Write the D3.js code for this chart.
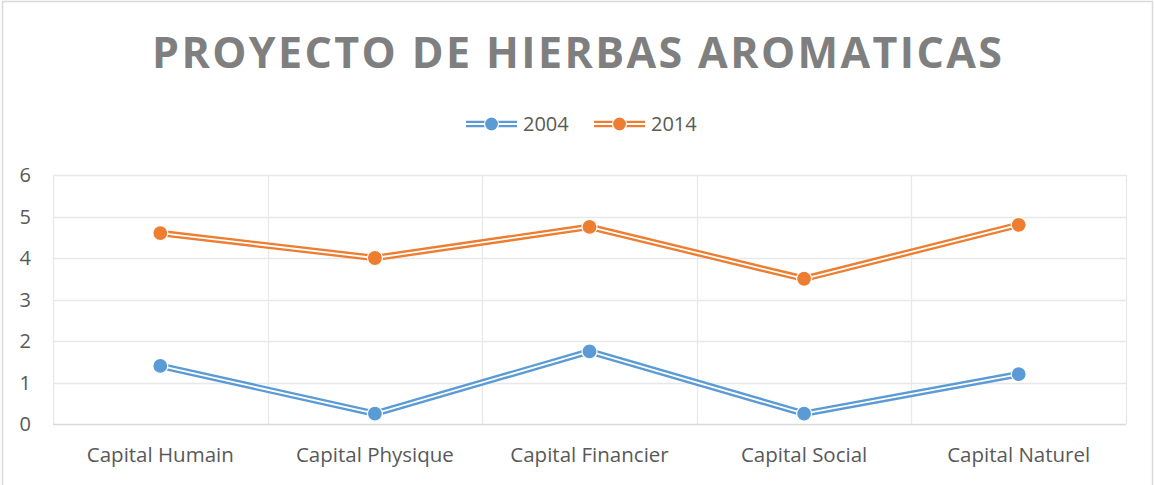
<!DOCTYPE html>
<html>
<head>
<meta charset="utf-8">
<script src="https://cdn.jsdelivr.net/npm/d3@7"></script>
<style>
  body { margin: 0; background: #fff; }
  text { font-family: "Open Sans", sans-serif; }
</style>
</head>
<body>
<div id="chart"></div>
<script>
var categories = ["Capital Humain", "Capital Physique", "Capital Financier", "Capital Social", "Capital Naturel"];
var values2004 = [1.4, 0.25, 1.75, 0.25, 1.2];
var values2014 = [4.6, 4.0, 4.75, 3.5, 4.8];
var yTicks = [0, 1, 2, 3, 4, 5, 6];
var seriesNames = ["2004", "2014"];
var seriesColors = ["#5b9bd5", "#ed7d31"];

var width = 1154;
var height = 485;
var margin = {top: 175, right: 28, bottom: 61, left: 53};

var svg = d3.select("#chart")
    .append("svg")
    .attr("width", width)
    .attr("height", height);

// chart frame
svg.append("rect")
    .attr("x", 2.5).attr("y", 1.5)
    .attr("width", width - 4).attr("height", height + 10)
    .attr("fill", "none")
    .attr("stroke", "#d9d9d9")
    .attr("stroke-width", 1.5);

svg.append("text")
    .attr("x", 152)
    .attr("y", 68)
    .attr("textLength", 850)
    .attr("lengthAdjust", "spacing")
    .attr("font-size", "43px")
    .attr("font-weight", "bold")
    .attr("fill", "#7f7f7f")
    .text("PROYECTO DE HIERBAS AROMATICAS");

var x = d3.scaleBand()
    .domain(categories)
    .range([margin.left, width - margin.right]);

var y = d3.scaleLinear()
    .domain([0, 6])
    .range([height - margin.bottom, margin.top]);

// horizontal gridlines
svg.append("g")
    .selectAll("line")
    .data(yTicks)
    .enter().append("line")
    .attr("x1", margin.left)
    .attr("x2", width - margin.right)
    .attr("y1", function (d) { return Math.round(y(d)) + 0.5; })
    .attr("y2", function (d) { return Math.round(y(d)) + 0.5; })
    .attr("stroke", function (d) { return d === 0 ? "#d9d9d9" : "#e8e8e8"; })
    .attr("stroke-width", 1.3);

// vertical gridlines between categories
var bounds = categories.map(function (c) { return x(c); });
bounds.push(x(categories[categories.length - 1]) + x.bandwidth());
svg.append("g")
    .selectAll("line")
    .data(bounds)
    .enter().append("line")
    .attr("x1", function (d) { return Math.round(d) + 0.5; })
    .attr("x2", function (d) { return Math.round(d) + 0.5; })
    .attr("y1", y(6))
    .attr("y2", y(0))
    .attr("stroke", "#e8e8e8")
    .attr("stroke-width", 1.3);

// y tick labels
svg.append("g")
    .selectAll("text")
    .data(yTicks)
    .enter().append("text")
    .attr("x", 31)
    .attr("y", function (d) { return y(d) + 7; })
    .attr("text-anchor", "end")
    .attr("font-size", "20px")
    .attr("fill", "#595959")
    .text(function (d) { return d; });

// x labels
svg.append("g")
    .selectAll("text")
    .data(categories)
    .enter().append("text")
    .attr("x", function (d) { return x(d) + x.bandwidth() / 2; })
    .attr("y", 462)
    .attr("text-anchor", "middle")
    .attr("font-size", "20.5px")
    .attr("fill", "#595959")
    .text(function (d) { return d; });

var line = d3.line()
    .x(function (d, i) { return x(categories[i]) + x.bandwidth() / 2; })
    .y(function (d) { return y(d); });

function drawSeries(vals, color) {
    var g = svg.append("g");
    g.append("path")
        .attr("d", line(vals))
        .attr("fill", "none")
        .attr("stroke", color)
        .attr("stroke-width", 6.5);
    g.append("path")
        .attr("d", line(vals))
        .attr("fill", "none")
        .attr("stroke", "#fff")
        .attr("stroke-width", 1.8);
    g.selectAll("circle")
        .data(vals)
        .enter().append("circle")
        .attr("cx", function (d, i) { return x(categories[i]) + x.bandwidth() / 2; })
        .attr("cy", function (d) { return y(d); })
        .attr("r", 7.5)
        .attr("fill", color)
        .attr("stroke", "#fff")
        .attr("stroke-width", 1.2);
}

drawSeries(values2004, seriesColors[0]);
drawSeries(values2014, seriesColors[1]);

// legend
var legendX = [466, 594];
var legend = svg.append("g").selectAll("g")
    .data(seriesNames)
    .enter().append("g")
    .attr("transform", function (d, i) { return "translate(" + legendX[i] + ",124)"; });

legend.append("line")
    .attr("x1", 0).attr("x2", 51)
    .attr("stroke", function (d, i) { return seriesColors[i]; })
    .attr("stroke-width", 6.5);
legend.append("line")
    .attr("x1", 0).attr("x2", 51)
    .attr("stroke", "#fff")
    .attr("stroke-width", 1.8);
legend.append("circle")
    .attr("cx", 25.5)
    .attr("r", 7)
    .attr("fill", function (d, i) { return seriesColors[i]; })
    .attr("stroke", "#fff")
    .attr("stroke-width", 1.2);
legend.append("text")
    .attr("x", 57)
    .attr("y", 7)
    .attr("font-size", "20px")
    .attr("fill", "#595959")
    .text(function (d) { return d; });
</script>
</body>
</html>
